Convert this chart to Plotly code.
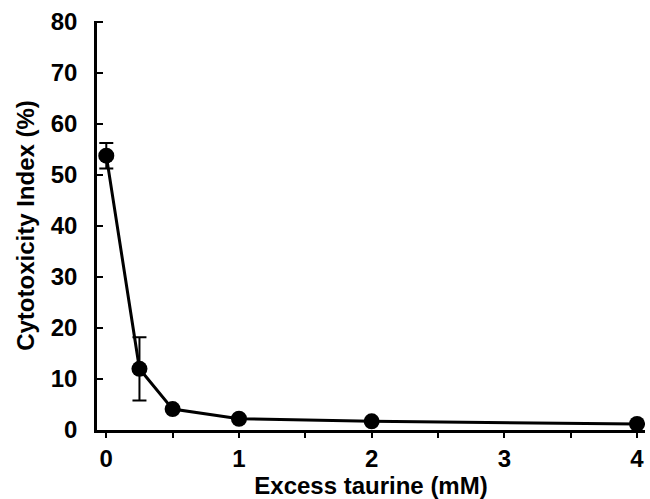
import plotly.graph_objects as go

taurine_mM = [0, 0.25, 0.5, 1, 2, 4]
cytotoxicity = [53.8, 12.0, 4.1, 2.2, 1.7, 1.2]
error = [2.5, 6.2, 0, 0, 0, 0]

x_tick_vals = [0, 0.5, 1, 1.5, 2, 2.5, 3, 3.5, 4]
x_tick_text = ["0", "", "1", "", "2", "", "3", "", "4"]
y_tick_vals = [0, 10, 20, 30, 40, 50, 60, 70, 80]

font = dict(family="Liberation Sans, Arial, sans-serif", color="black", weight="bold")

fig = go.Figure()
fig.add_trace(go.Scatter(
    x=taurine_mM, y=cytotoxicity,
    mode="lines+markers",
    line=dict(color="black", width=3),
    marker=dict(color="black", size=16, symbol="circle"),
    error_y=dict(type="data", array=error, visible=True, color="black",
                 thickness=2, width=7),
    showlegend=False,
))

fig.update_layout(
    width=650, height=499,
    margin=dict(l=97, r=5, t=21, b=69),
    paper_bgcolor="white", plot_bgcolor="white",
    font=font,
)
fig.update_xaxes(
    range=[-0.07, 4.06],
    tickvals=x_tick_vals, ticktext=x_tick_text,
    ticks="outside", ticklen=5, tickwidth=2, tickcolor="black",
    showline=True, linecolor="black", linewidth=2.5,
    showgrid=False, zeroline=False, automargin=False,
    tickfont=dict(size=24, **font),
    title=dict(text="Excess taurine (mM)", font=dict(size=24, **font), standoff=6),
)
fig.update_yaxes(
    range=[0, 80.2],
    tickvals=y_tick_vals,
    ticks="inside", ticklen=6, tickwidth=2, tickcolor="black",
    ticklabelstandoff=12,
    showline=True, linecolor="black", linewidth=2.5,
    showgrid=False, zeroline=False, automargin=False,
    tickfont=dict(size=24, **font),
    title=dict(text="Cytotoxicity Index (%)", font=dict(size=24, **font), standoff=10),
)

fig.write_html("out.html", config={"displayModeBar": False},
               post_script="document.body.style.margin='0';")
